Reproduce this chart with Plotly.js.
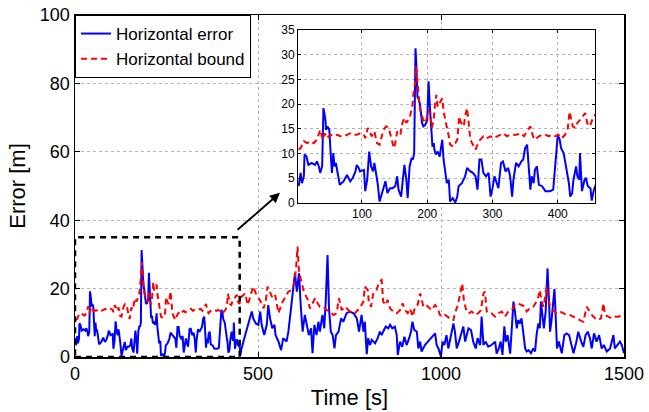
<!DOCTYPE html>
<html>
<head>
<meta charset="utf-8">
<script src="https://cdn.plot.ly/plotly-3.0.1.min.js"></script>
<style>
  html, body { margin: 0; padding: 0; background: #fff; }
  #wrap { position: relative; width: 649px; height: 412px; }
  #chart { position: absolute; left: 0; top: 0; width: 649px; height: 412px; }
  /* inset sits on top of the main axes, white plot area hides the main grid */
  #inset { position: absolute; left: 262px; top: 20px; width: 343px; height: 210px; }
</style>
</head>
<body>
<div id="wrap">
  <div id="chart"></div>
  <div id="inset"></div>
</div>
<script>
// horizontal error, first 450 s (also shown in the zoomed inset)
const errTimeA = [3,6,8,11,12,15,18,23,28,31,34,36,39,40,41,44,45,47,50,52,
  54,56,58,60,63,66,72,77,82,86,90,92,95,97,103,105,108,111,114,117,
  119,122,124,127,131,136,139,143,147,151,154,156,160,163,165,168,170,173,176,178,
  180,182,183,185,187,189,192,194,197,200,202,204,206,208,210,211,213,216,219,222,
  223,225,228,230,233,235,239,243,246,248,253,258,261,266,270,274,277,280,283,286,
  290,294,297,300,303,307,309,313,316,320,324,327,330,332,336,340,344,347,350,353,
  355,358,360,363,365,368,371,376,381,388,393,396,400,403,405,409,413,417,419,422,
  424,428,430,433,434,437,441,443,446,450];
const errValA = [3.4,6.1,4.0,5.4,9.8,9.4,7.7,8.1,7.7,8.4,7.4,6.1,7.4,13.5,19.2,16.8,14.8,15.5,14.8,10.1,
  6.1,10.1,7.4,8.1,5.4,3.7,4.4,5.7,4.4,5.1,6.4,7.7,7.1,6.4,6.7,2.4,4.7,10.4,7.4,6.4,
  8.1,6.1,4.0,0.3,2.0,4.4,2.0,3.0,3.0,3.4,5.4,2.7,1.3,4.7,7.7,4.7,1.0,7.4,9.1,8.8,
  10.1,31.3,29.0,21.5,20.9,19.9,16.2,15.5,15.8,16.8,24.6,19.5,14.8,11.4,12.1,10.8,9.8,10.4,9.4,11.4,
  12.8,8.8,5.4,4.0,4.7,0.3,1.0,0.1,1.3,3.4,4.0,5.4,7.1,6.4,6.1,5.4,2.7,8.8,8.8,6.1,
  5.4,6.1,1.3,3.0,5.4,3.7,3.0,8.1,8.4,6.4,7.1,5.4,1.3,4.7,8.1,7.4,8.4,8.8,11.1,11.8,
  8.8,2.7,5.4,4.0,6.7,7.4,3.7,3.4,2.4,2.4,2.7,8.1,13.8,12.8,11.1,10.1,7.4,4.0,1.3,2.0,
  4.7,7.4,5.4,4.7,10.1,2.4,4.7,5.1,3.4,3.0];

// horizontal error, rest of the run
const errTimeB = [452,455,465,474,483,487,494,501,506,510,
  517,524,528,533,539,545,548,556,563,569,
  578,583,590,597,601,606,612,617,622,628,
  633,639,645,649,654,660,665,669,676,681,
  685,690,694,699,704,709,713,720,727,733,
  742,751,761,770,776,783,788,792,797,801,
  806,811,820,827,833,838,842,849,856,861,
  867,874,879,882,888,894,900,906,913,918,
  922,927,934,938,943,947,956,965,974,984,
  988,993,1000,1004,1009,1015,1020,1027,1034,1038,
  1043,1049,1055,1061,1066,1075,1082,1088,1095,1100,
  1107,1111,1116,1122,1129,1138,1148,1152,1158,1163,
  1168,1173,1177,1182,1189,1193,1198,1202,1207,1211,
  1216,1220,1225,1230,1234,1239,1246,1252,1257,1261,
  1266,1270,1273,1278,1281,1286,1291,1295,1298,1302,
  1310,1314,1317,1322,1330,1337,1343,1350,1355,1362,
  1369,1375,1383,1389,1395,1401,1407,1412,1418,1425,
  1432,1439,1445,1453,1462,1471,1475,1483,1489,1494,
  1500];
const errValB = [0.5,2.5,6.4,10.3,13.3,11.3,9.8,9.4,13.3,9.4,
  6.4,9.4,15.2,11.3,8.4,9.4,6.4,4.5,2.0,5.5,
  4.5,7.4,14.2,20.1,24.5,19.1,24.5,14.7,7.4,12.3,
  9.8,6.4,8.4,1.1,9.4,6.4,10.3,7.4,12.3,8.4,
  16.2,29.8,14.2,7.4,6.4,2.5,6.4,7.4,11.3,10.3,
  12.8,13.3,12.8,11.3,7.4,12.3,7.4,10.3,0.8,5.5,
  3.5,5.0,4.0,5.5,7.4,6.4,7.4,8.9,8.4,9.4,
  8.4,8.9,6.4,0.6,4.5,3.0,5.9,3.5,5.5,7.4,
  10.3,7.9,7.4,2.5,4.5,1.6,3.5,4.5,5.5,6.9,
  3.5,2.5,0.1,4.5,3.5,6.4,2.5,6.4,9.8,7.4,
  2.5,4.5,6.4,8.9,4.5,8.4,7.9,4.5,2.5,5.5,
  3.5,11.8,3.5,4.5,3.0,3.5,4.5,1.0,2.5,4.5,
  0.6,9.0,4.5,6.4,1.0,9.4,16.2,13.3,8.4,10.8,
  9.8,11.3,7.4,2.5,1.6,2.0,1.1,2.5,1.6,6.4,
  9.8,8.4,16.2,11.3,8.4,13.3,25.9,16.7,7.4,10.8,
  19.9,10.3,2.5,4.5,1.1,6.4,6.9,6.4,4.5,1.1,
  4.0,7.4,4.5,3.0,6.4,7.4,5.5,2.5,6.9,4.5,
  6.4,2.5,3.5,1.6,2.5,6.4,2.5,3.5,4.5,3.5,
  1.1];

// horizontal protection bound, first 450 s
const bndTimeA = [3,6,11,16,21,26,31,36,40,43,46,52,57,62,67,72,77,82,87,92,
  97,103,105,109,113,115,119,123,127,131,133,137,141,145,149,151,154,156,159,161,
  165,168,171,174,177,179,182,183,185,187,189,192,194,197,200,202,205,207,210,211,
  214,216,219,223,225,228,230,233,235,240,246,249,252,256,258,261,263,266,270,274,
  277,281,286,291,297,302,307,312,317,322,327,332,337,343,348,353,358,362,365,371,
  376,381,386,391,396,401,406,411,415,418,421,423,427,430,434,438,442,445,449];
const bndValA = [10.8,11.1,12.5,12.1,12.5,12.1,12.8,14.8,12.8,14.1,13.1,13.8,13.5,13.8,13.5,13.5,13.8,14.1,13.8,13.8,
  14.1,13.8,13.1,15.2,14.1,13.5,14.5,12.1,11.8,14.1,14.8,15.5,15.2,13.1,11.1,12.1,14.5,14.1,13.8,15.8,
  17.2,16.2,16.8,17.8,19.5,22.2,24.9,27.6,23.9,21.5,18.9,17.8,16.8,16.2,17.5,18.9,17.5,15.2,16.8,18.9,
  21.9,19.5,20.2,21.2,18.5,16.8,15.2,13.5,11.8,11.4,12.8,17.5,16.2,15.5,17.5,19.2,16.8,12.8,11.8,10.8,
  11.8,12.8,13.5,13.1,13.5,13.1,13.5,13.8,14.1,13.5,13.8,13.8,13.8,14.1,13.5,14.5,15.5,13.5,12.8,13.5,
  13.8,13.8,13.5,13.8,13.5,13.8,13.1,13.8,14.8,18.5,16.8,15.5,15.2,16.2,16.8,17.5,18.2,16.2,15.5];

// horizontal protection bound, rest of the run
const bndTimeB = [455,465,472,478,487,494,506,510,515,521,
  526,533,540,547,556,565,574,583,592,599,
  604,606,608,612,618,624,630,636,642,649,
  656,663,669,679,688,697,706,715,721,729,
  738,751,765,777,788,792,800,803,809,815,
  824,831,838,842,849,854,861,870,879,888,
  895,902,909,915,923,929,936,943,947,952,
  958,965,974,984,991,997,1004,1011,1018,1027,
  1034,1038,1046,1052,1058,1063,1070,1076,1084,1093,
  1102,1109,1116,1120,1125,1131,1138,1148,1157,1166,
  1175,1184,1193,1202,1211,1220,1230,1234,1243,1252,
  1261,1266,1270,1275,1280,1284,1289,1293,1298,1307,
  1316,1325,1334,1343,1352,1362,1371,1380,1389,1398,
  1404,1412,1421,1430,1437,1444,1448,1457,1466,1475,
  1485,1494,1500];
const bndValB = [17.6,18.6,15.2,17.6,20.6,18.6,16.7,15.7,14.2,16.2,
  20.6,19.1,17.2,18.1,12.8,15.7,17.6,19.1,19.6,21.5,
  25.9,28.8,32.3,25.0,22.0,19.6,18.1,16.7,14.2,15.7,
  17.2,15.7,14.7,14.7,13.7,13.3,12.3,12.8,17.2,13.7,
  14.7,13.3,12.8,14.2,16.2,20.6,19.6,15.7,14.7,18.6,
  19.6,22.0,22.5,16.2,15.2,16.7,14.2,13.3,12.8,13.7,
  15.7,13.7,12.8,14.2,11.8,14.7,15.2,18.6,17.2,14.7,
  15.2,14.7,13.7,15.2,14.2,12.3,11.8,12.3,11.8,10.8,
  10.8,12.8,15.2,18.6,21.5,16.2,13.3,12.8,13.3,12.3,
  12.8,13.7,18.6,19.1,13.3,12.8,12.8,11.8,12.8,13.3,
  11.8,13.3,13.7,15.2,15.7,15.2,14.7,13.3,14.2,14.7,
  16.2,17.6,19.6,16.2,14.7,17.2,20.6,17.2,14.7,13.7,
  12.8,13.3,12.8,12.3,12.3,11.8,11.3,10.8,10.3,14.7,
  13.7,12.3,11.3,10.8,11.3,15.7,12.3,11.8,11.3,11.8,
  11.8,12.3,12.8];

const seriesNames = ["Horizontal error", "Horizontal bound"];
const zoomWindow = { t: [0, 450], v: [0, 35] }; // dashed box on the main axes
const insetRange = { t: [2, 457], v: [0, 35] };

const errT = errTimeA.concat(errTimeB);
const errV = errValA.concat(errValB);
const bndT = bndTimeA.concat(bndTimeB);
const bndV = bndValA.concat(bndValB);

const FONT = "Liberation Sans, Arial, sans-serif";
const errLine = { color: "#0000ff", width: 2 };
const bndLine = { color: "#ff0000", width: 2, dash: "6px,4px" };

// matlab-ish axis look
function boxAxis(extra) {
  return Object.assign({
    showline: true, linecolor: "#000", linewidth: 1.5, mirror: "ticks",
    ticks: "inside", ticklen: 5, tickcolor: "#000", tickwidth: 1,
    showgrid: true, gridcolor: "#b4b4b4", griddash: "dot", gridwidth: 1,
    zeroline: false,
  }, extra);
}

// main plot
const mainData = [
  { x: errT, y: errV, mode: "lines", name: seriesNames[0], line: errLine },
  { x: bndT, y: bndV, mode: "lines", name: seriesNames[1], line: bndLine },
];

const mainLayout = {
  width: 649, height: 412,
  margin: { l: 75, r: 25, t: 15, b: 55 },
  paper_bgcolor: "#fff", plot_bgcolor: "#fff",
  font: { family: FONT, color: "#000" },
  showlegend: true,
  legend: {
    x: 0, y: 1, xanchor: "left", yanchor: "top",
    bgcolor: "#fff", bordercolor: "#000", borderwidth: 1,
    font: { size: 17, family: FONT }, tracegroupgap: 0,
  },
  xaxis: boxAxis({
    range: [0, 1500], tickvals: [0, 500, 1000, 1500],
    tickfont: { size: 18 }, title: { text: "Time [s]", font: { size: 22 }, standoff: 6 },
  }),
  yaxis: boxAxis({
    range: [0, 100], tickvals: [0, 20, 40, 60, 80, 100],
    tickfont: { size: 18 }, title: { text: "Error [m]", font: { size: 22 }, standoff: 8 },
  }),
  shapes: [{
    type: "rect", xref: "x", yref: "y",
    x0: zoomWindow.t[0], x1: zoomWindow.t[1], y0: zoomWindow.v[0], y1: zoomWindow.v[1],
    line: { color: "#000", width: 2.5, dash: "6px,5px" },
  }],
  annotations: [{
    xref: "x", yref: "y", axref: "x", ayref: "y",
    x: 560, y: 48, ax: 440, ay: 36.8,
    text: "", showarrow: true, arrowhead: 2, arrowsize: 1, arrowwidth: 2, arrowcolor: "#000",
  }],
};

Plotly.newPlot("chart", mainData, mainLayout, { displayModeBar: false, staticPlot: true });

// inset: same series, zoomed on the first 450 s
const insetData = [
  { x: errTimeA.concat(errTimeB.slice(0, 3)), y: errValA.concat(errValB.slice(0, 3)), mode: "lines", line: errLine },
  { x: bndTimeA.concat(bndTimeB.slice(0, 3)), y: bndValA.concat(bndValB.slice(0, 3)), mode: "lines", line: bndLine },
];

const insetLayout = {
  width: 343, height: 210,
  margin: { l: 36, r: 10, t: 10, b: 27 },
  paper_bgcolor: "rgba(0,0,0,0)", plot_bgcolor: "#fff",
  font: { family: FONT, color: "#000" },
  showlegend: false,
  xaxis: boxAxis({
    range: insetRange.t, tickvals: [100, 200, 300, 400],
    tickfont: { size: 12 }, ticklen: 3, linewidth: 1,
  }),
  yaxis: boxAxis({
    range: insetRange.v, tickvals: [0, 5, 10, 15, 20, 25, 30, 35],
    tickfont: { size: 12 }, ticklen: 3, linewidth: 1,
  }),
};

Plotly.newPlot("inset", insetData, insetLayout, { displayModeBar: false, staticPlot: true });
</script>
</body>
</html>
